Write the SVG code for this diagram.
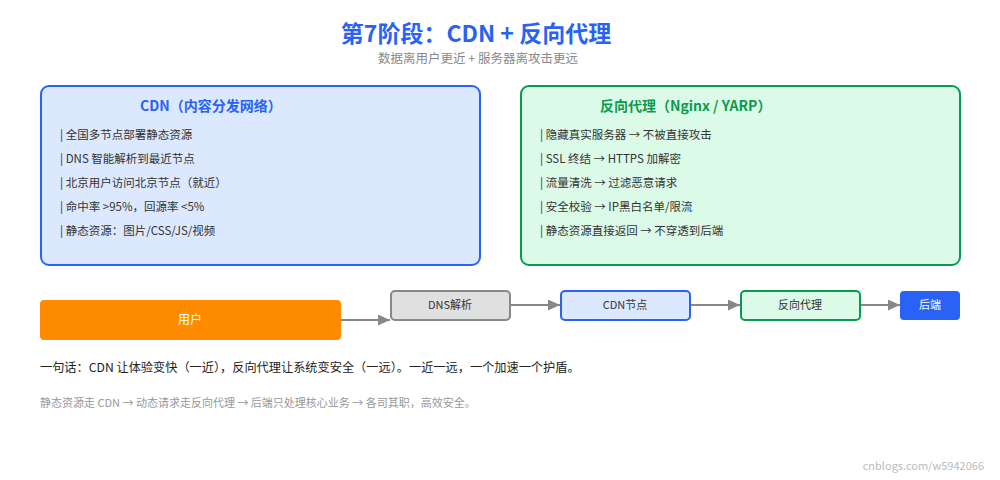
<svg xmlns="http://www.w3.org/2000/svg" width="1000" height="480" viewBox="0 0 1000 480">
<style>
text{font-family:"Noto Sans CJK SC","Noto Sans",sans-serif}
.t{font-size:23px;font-weight:bold;fill:#2962f5}
.sub{font-size:12.5px;fill:#888}
.h{font-size:14px;font-weight:bold}
.li{font-size:11.5px;fill:#333}
.nl{font-size:11px;fill:#333}
.conn{stroke:#888;stroke-width:2;fill:none}
</style>
<defs>
<marker id="ah" markerWidth="12" markerHeight="11" refX="12" refY="5.5" orient="auto" markerUnits="userSpaceOnUse">
<path d="M0,0 L12,5.5 L0,11 Z" fill="#888"/>
</marker>
</defs>
<rect width="1000" height="480" fill="#fff"/>
<g id="title">
<text class="t" x="476" y="42" text-anchor="middle">第7阶段：CDN + 反向代理</text>
<text class="sub" x="478" y="63" text-anchor="middle">数据离用户更近 + 服务器离攻击更远</text>
</g>
<g id="cdn-panel">
<rect x="41" y="86" width="439" height="179" rx="8" fill="#dce8fd" stroke="#2962f5" stroke-width="2"/>
<text class="h" x="140" y="111" fill="#2962f5">CDN（内容分发网络）</text>
<text class="li" x="60" y="139">| 全国多节点部署静态资源</text>
<text class="li" x="60" y="163">| DNS 智能解析到最近节点</text>
<text class="li" x="60" y="187">| 北京用户访问北京节点（就近）</text>
<text class="li" x="60" y="211">| 命中率 &gt;95%，回源率 &lt;5%</text>
<text class="li" x="60" y="235">| 静态资源：图片/CSS/JS/视频</text>
</g>
<g id="proxy-panel">
<rect x="521" y="86" width="439" height="179" rx="8" fill="#dcfae8" stroke="#0a9a4e" stroke-width="2"/>
<text class="h" x="600" y="111" fill="#0a9a4e">反向代理（Nginx / YARP）</text>
<text class="li" x="540" y="139">| 隐藏真实服务器 → 不被直接攻击</text>
<text class="li" x="540" y="163">| SSL 终结 → HTTPS 加解密</text>
<text class="li" x="540" y="187">| 流量清洗 → 过滤恶意请求</text>
<text class="li" x="540" y="211">| 安全校验 → IP黑白名单/限流</text>
<text class="li" x="540" y="235">| 静态资源直接返回 → 不穿透到后端</text>
</g>
<g id="connectors">
<line class="conn" x1="341" y1="320" x2="390" y2="320" marker-end="url(#ah)"/>
<line class="conn" x1="510" y1="305" x2="560" y2="305" marker-end="url(#ah)"/>
<line class="conn" x1="690" y1="305" x2="740" y2="305" marker-end="url(#ah)"/>
<line class="conn" x1="860" y1="305" x2="900" y2="305" marker-end="url(#ah)"/>
</g>
<g id="user">
<rect x="40" y="300" width="301" height="40" rx="4" fill="#ff8c00"/>
<text x="190" y="324" text-anchor="middle" font-size="12" fill="#fff">用户</text>
</g>
<g id="dns">
<rect x="391" y="291" width="119" height="29" rx="4" fill="#e0e0e0" stroke="#888" stroke-width="2"/>
<text class="nl" x="450" y="309" text-anchor="middle">DNS解析</text>
</g>
<g id="cdn-node">
<rect x="561" y="291" width="129" height="29" rx="4" fill="#dce8fd" stroke="#2962f5" stroke-width="2"/>
<text class="nl" x="625" y="309" text-anchor="middle">CDN节点</text>
</g>
<g id="proxy-node">
<rect x="741" y="291" width="119" height="29" rx="4" fill="#dcfae8" stroke="#0a9a4e" stroke-width="2"/>
<text class="nl" x="800" y="309" text-anchor="middle">反向代理</text>
</g>
<g id="backend">
<rect x="900" y="291" width="60" height="29" rx="4" fill="#2962f5"/>
<text x="930" y="309" text-anchor="middle" font-size="11" fill="#fff">后端</text>
</g>
<g id="notes">
<text x="40" y="372" font-size="12.2" fill="#222">一句话：CDN 让体验变快（一近），反向代理让系统变安全（一远）。一近一远，一个加速一个护盾。</text>
<text x="40" y="407" font-size="11" fill="#999">静态资源走 CDN → 动态请求走反向代理 → 后端只处理核心业务 → 各司其职，高效安全。</text>
<text x="984" y="470" font-size="11" fill="#bbb" text-anchor="end">cnblogs.com/w5942066</text>
</g>
</svg>
